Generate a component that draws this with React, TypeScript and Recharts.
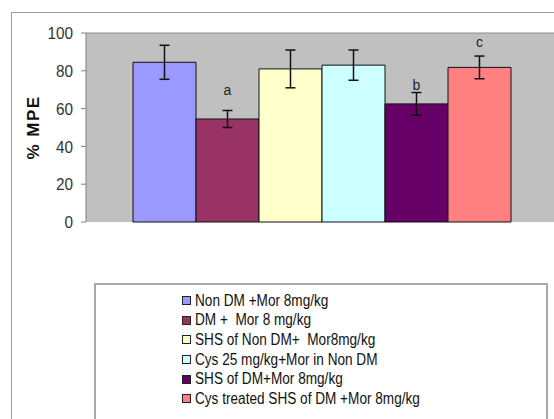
import React from "react";
import {
  BarChart,
  Bar,
  XAxis,
  YAxis,
  CartesianGrid,
  ErrorBar,
  LabelList,
  Legend,
} from "recharts";

// Group names, in plotting order
const groups = [
  "Non DM +Mor 8mg/kg",
  "DM +  Mor 8 mg/kg",
  "SHS of Non DM+  Mor8mg/kg",
  "Cys 25 mg/kg+Mor in Non DM",
  "SHS of DM+Mor 8mg/kg",
  "Cys treated SHS of DM +Mor 8mg/kg",
];

// Mean %MPE per group
const means = [84.5, 54.5, 81, 83, 62.5, 81.8];

// Standard error per group
const errors = [9, 4.5, 10, 8, 6, 6];

// Significance letters above bars
const letters = ["", "a", "", "", "b", "c"];

const colors = ["#9999FF", "#993366", "#FFFFCC", "#CCFFFF", "#660066", "#FF8080"];

const letterOffsets = [0, 24, 0, 0, 14, 20];

const yTicks = [0, 20, 40, 60, 80, 100];

const row: Record<string, number | string> = { name: "" };
groups.forEach((_, i) => {
  row[`v${i}`] = means[i];
  row[`e${i}`] = errors[i];
  row[`l${i}`] = letters[i];
});
const data = [row];

const FONT = "'Liberation Sans', Arial, sans-serif";

// Narrow-set tick label for the value axis
const YTick = (props: any) => {
  const { x, y, payload } = props;
  return (
    <text
      transform={`translate(${x},${y}) scale(0.9,1)`}
      textAnchor="end"
      dy="0.36em"
      fontFamily={FONT}
      fontSize={17}
      fill="#333"
    >
      {payload.value}
    </text>
  );
};

const LegendBox = () => (
  <div
    style={{
      position: "absolute",
      left: 94,
      top: 283,
      width: 454,
      height: 160,
      border: "2px solid #a8a8a8",
      boxSizing: "border-box",
      background: "#fff",
      fontFamily: FONT,
      fontSize: 16,
      color: "#111",
    }}
  >
    <div style={{ position: "absolute", left: 86, top: 6 }}>
      {groups.map((g, i) => (
        <div
          key={g}
          style={{ display: "flex", alignItems: "center", height: 19.6, whiteSpace: "pre" }}
        >
          <span
            style={{
              display: "inline-block",
              width: 7,
              height: 7,
              background: colors[i],
              border: "1px solid #222",
              marginRight: 4,
            }}
          />
          <span
            style={{
              display: "inline-block",
              transform: "scaleX(0.85)",
              transformOrigin: "left center",
            }}
          >
            {g}
          </span>
        </div>
      ))}
    </div>
  </div>
);

export default function App() {
  return (
    <div
      style={{
        position: "absolute",
        left: 0,
        top: 0,
        width: 554,
        height: 419,
        background: "#fff",
        overflow: "hidden",
      }}
    >
      <div
        style={{
          position: "absolute",
          left: 11,
          top: 12,
          width: 600,
          height: 500,
          border: "1px solid #9a9a9a",
        }}
      />
      <BarChart
        width={554}
        height={419}
        data={data}
        margin={{ top: 33, right: -1, bottom: 197, left: 0 }}
        barGap={0}
        barCategoryGap={47}
        style={{ position: "absolute", left: 0, top: 0 }}
      >
        <CartesianGrid
          fill="#C0C0C0"
          vertical={false}
          horizontalValues={[100]}
          stroke="#8c8c8c"
        />
        <XAxis
          dataKey="name"
          tick={false}
          tickLine={false}
          height={0}
          axisLine={{ stroke: "#707070" }}
        />
        <YAxis
          domain={[0, 100]}
          ticks={yTicks}
          width={86}
          interval={0}
          tickSize={5}
          tickMargin={8}
          axisLine={{ stroke: "#808080" }}
          tickLine={{ stroke: "#808080" }}
          tick={<YTick />}
          label={{
            value: "% MPE",
            angle: -90,
            position: "insideLeft",
            dx: 28,
            style: {
              textAnchor: "middle",
              fontFamily: FONT,
              fontWeight: "bold",
              fontSize: 17,
              letterSpacing: 1.5,
              fill: "#111",
            },
          }}
        />
        {groups.map((g, i) => (
          <Bar
            key={g}
            dataKey={`v${i}`}
            name={g}
            fill={colors[i]}
            stroke="#111"
            strokeWidth={1}
            isAnimationActive={false}
          >
            <ErrorBar dataKey={`e${i}`} width={5} stroke="#111" strokeWidth={1.5} direction="y" />
            {letters[i] ? (
              <LabelList
                dataKey={`l${i}`}
                position="top"
                offset={letterOffsets[i]}
                style={{ fontFamily: FONT, fontSize: 14, fill: "#222" }}
              />
            ) : null}
          </Bar>
        ))}
        <Legend content={() => null} />
      </BarChart>
      <LegendBox />
    </div>
  );
}
